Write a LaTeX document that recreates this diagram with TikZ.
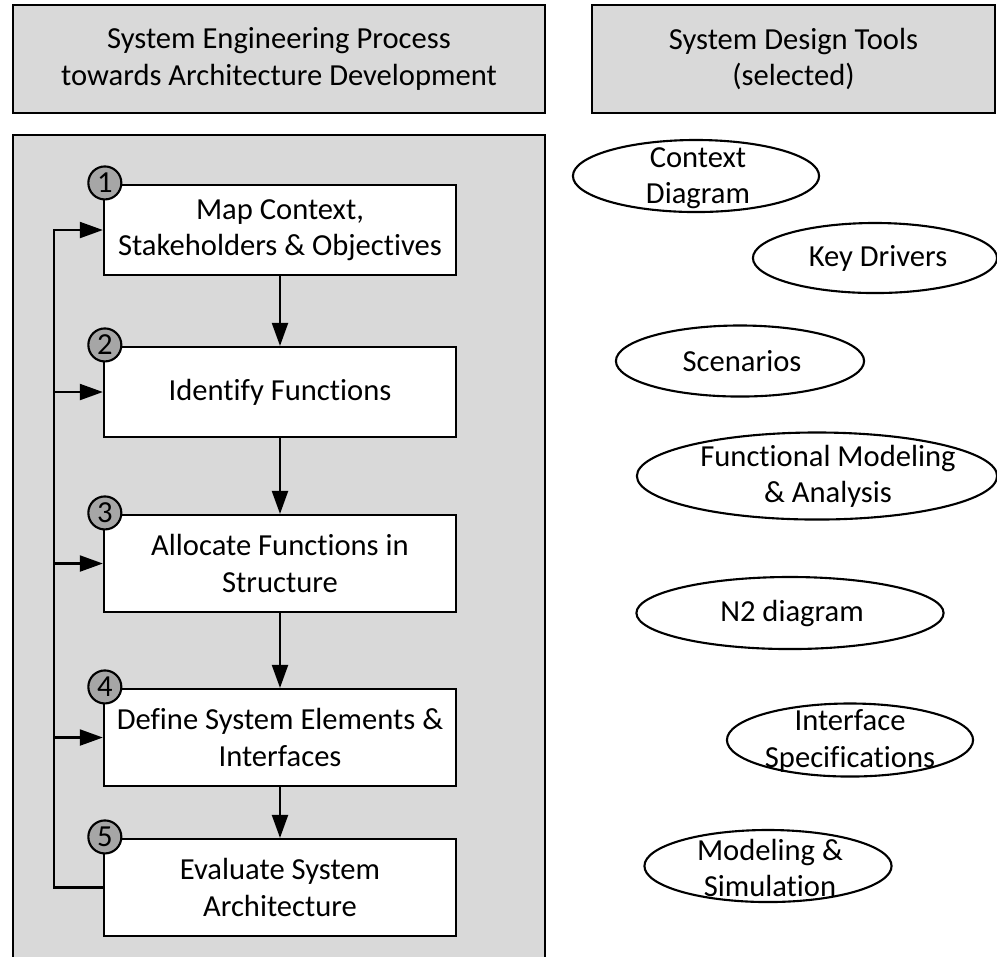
\documentclass[tikz,border=0pt]{standalone}
\usepackage{fontspec}
\setmainfont{Carlito}[Ligatures=NoCommon]
\usetikzlibrary{shapes.geometric,arrows.meta,calc}
\definecolor{panelgray}{HTML}{D9D9D9}
\definecolor{markgray}{HTML}{A6A6A6}
\tikzset{
  every node/.style={font=\fontsize{8.7}{10.3}\selectfont},
  headbox/.style={draw,fill=panelgray,line width=0.6pt,align=center,
    minimum height=1.08cm,inner sep=0pt},
  stepbox/.style={draw,fill=white,line width=0.6pt,align=center,
    minimum width=3.52cm,inner sep=0pt},
  stepmark/.style={circle,draw,fill=markgray,line width=0.6pt,
    minimum size=0.33cm,inner sep=0pt},
  tool/.style={ellipse,draw,line width=0.6pt,inner sep=0pt},
  tooltext/.style={align=center,inner sep=0pt}
}
\begin{document}
\begin{tikzpicture}[x=0.01cm,y=-0.01cm,>={Triangle[length=0.23cm,width=0.16cm]},
    line width=0.6pt]
  \useasboundingbox (0,0) rectangle (997,956);
  %
  % Headers
  \node[headbox,minimum width=5.32cm] (proc) at (279,59)
    {System Engineering Process\\towards Architecture Development};
  \node[headbox,minimum width=4.03cm] (tools) at (793.5,59)
    {System Design Tools\\(selected)};
  %
  % Process panel (runs off the bottom)
  \fill[panelgray] (13,135) rectangle (545,960);
  \draw (13,960) |- (545,135) -- (545,960);
  %
  % Process steps
  \node[stepbox,minimum height=0.9cm] (s1) at (280,230)
    {Map Context,\\Stakeholders \& Objectives};
  \node[stepbox,minimum height=0.9cm] (s2) at (280,392)
    {Identify Functions};
  \node[stepbox,minimum height=0.97cm] (s3) at (280,563.5)
    {Allocate Functions in\\Structure};
  \node[stepbox,minimum height=0.97cm] (s4) at (280,737.5)
    {Define System Elements \&\\Interfaces};
  \node[stepbox,minimum height=0.97cm] (s5) at (280,887.5)
    {Evaluate System\\Architecture};
  \foreach \i in {1,...,5}
    \node[stepmark] (m\i) at ($(s\i.north west)+(2,-1)$) {\i};
  %
  % Flow
  \foreach \i/\j in {1/2,2/3,3/4,4/5}
    \draw[->] (s\i) -- (s\j);
  \coordinate (loop) at ($(s5.west)+(-49,0)$);
  \draw[->] (s5.west) -- (loop) |- (s1.west);
  \foreach \i in {2,3,4}
    \draw[->] (loop |- s\i.west) -- (s\i.west);
  %
  % Design tools
  \node[tool,minimum width=2.46cm,minimum height=0.72cm] (ctx) at (696,176) {};
  \node[tooltext] (ctx-t) at (698,178) {Context\\Diagram};
  \node[tool,minimum width=2.44cm,minimum height=0.70cm] (keyd) at (875,258) {};
  \node[tooltext] (keyd-t) at (878,258) {Key Drivers};
  \node[tool,minimum width=2.48cm,minimum height=0.71cm] (scen) at (740,361) {};
  \node[tooltext] (scen-t) at (742,361) {Scenarios};
  \node[tool,minimum width=3.60cm,minimum height=0.87cm] (func) at (817,476) {};
  \node[tooltext] (func-t) at (828,476) {Functional Modeling\\\& Analysis};
  \node[tool,minimum width=3.07cm,minimum height=0.72cm] (n2) at (790,613) {};
  \node[tooltext] (n2-t) at (792,613) {N2 diagram};
  \node[tool,minimum width=2.46cm,minimum height=0.73cm] (intf) at (850,740) {};
  \node[tooltext] (intf-t) at (850,741) {Interface\\Specifications};
  \node[tool,minimum width=2.47cm,minimum height=0.72cm] (msim) at (768,866) {};
  \node[tooltext] (msim-t) at (770,868) {Modeling \&\\Simulation};
  %
\end{tikzpicture}
\end{document}
